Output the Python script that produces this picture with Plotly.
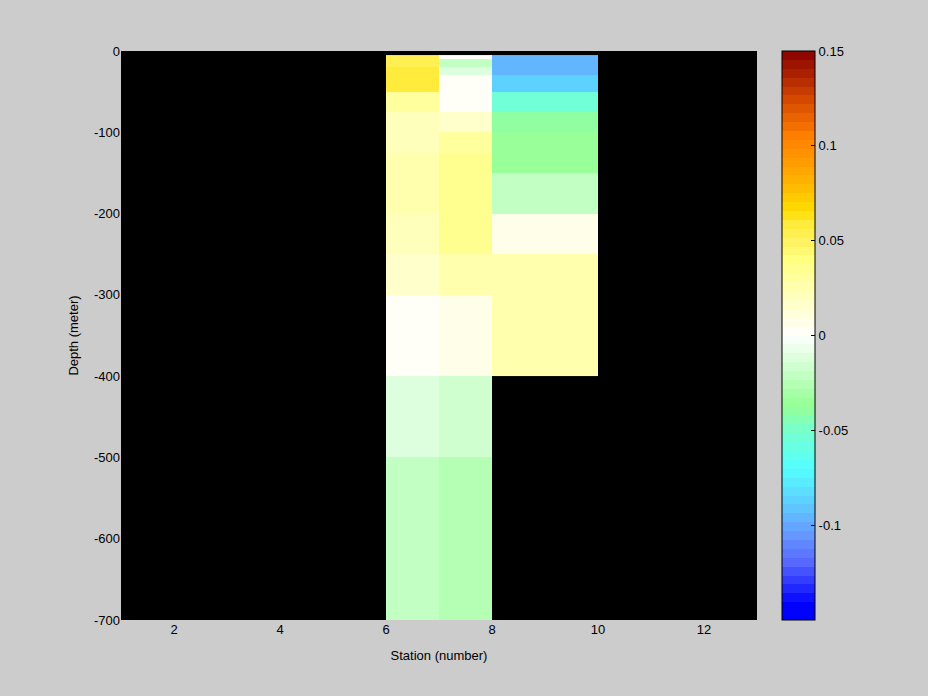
import plotly.graph_objects as go

# ---- data ----
station_edges = [6, 7, 8, 10]
depth_edges = [5, 10, 20, 30, 50, 75, 100, 125, 150, 200, 250, 300, 400, 500, 700]

# values per depth cell (top -> bottom), one list per station column
col_st6 = [0.054, 0.056, 0.058, 0.060, 0.030, 0.022, 0.022, 0.025, 0.025, 0.022, 0.016, 0.004, -0.012, -0.022]
col_st7 = [0.000, -0.019, -0.010, 0.004, 0.004, 0.017, 0.030, 0.036, 0.036, 0.034, 0.026, 0.008, -0.017, -0.025]
col_st8 = [-0.094, -0.098, -0.098, -0.089, -0.055, -0.041, -0.036, -0.033, -0.021, 0.008, 0.024, 0.024, None, None]

x_ticks = [2, 4, 6, 8, 10, 12]
y_ticks = [0, -100, -200, -300, -400, -500, -600, -700]
y_ticklabels = ["0", "-100", "-200", "-300", "-400", "-500", "-600", "-700"]
cb_ticks = [-0.1, -0.05, 0, 0.05, 0.1, 0.15]
cb_ticklabels = ["-0.1", "-0.05", "0", "0.05", "0.1", "0.15"]

# colormap anchors (value, rgb)
cmap_vals = [-0.15, -0.142, -0.12, -0.105, -0.09, -0.07, -0.052, -0.037, -0.035, 0.0,
             0.04, 0.05, 0.058, 0.066, 0.08, 0.105, 0.125, 0.15]
cmap_rgb = [(0, 0, 255), (0, 0, 255), (85, 102, 255), (102, 153, 255), (95, 200, 255),
            (85, 255, 255), (115, 255, 210), (150, 255, 150), (153, 255, 153), (255, 255, 255),
            (255, 255, 128), (255, 242, 95), (255, 236, 65), (255, 221, 0), (255, 180, 0),
            (255, 127, 0), (210, 70, 0), (136, 0, 0)]
zmin, zmax = -0.15, 0.15
nlev = 64


def interp(v):
    for i in range(len(cmap_vals) - 1):
        a, b = cmap_vals[i], cmap_vals[i + 1]
        if a <= v <= b:
            t = 0 if b == a else (v - a) / (b - a)
            ca, cb = cmap_rgb[i], cmap_rgb[i + 1]
            return tuple(round(ca[k] + t * (cb[k] - ca[k])) for k in range(3))
    return cmap_rgb[-1]


colorscale = []
for i in range(nlev):
    vc = zmin + (i + 0.5) * (zmax - zmin) / nlev
    r, g, b = interp(vc)
    col = f"rgb({r},{g},{b})"
    colorscale.append([i / nlev, col])
    colorscale.append([(i + 1) / nlev, col])

# build z (rows = depth cells, increasing y => reverse order)
ncell = len(depth_edges) - 1
z = []
for j in range(ncell):
    z.append([col_st6[j], col_st7[j], col_st8[j]])
z = z[::-1]
y_edges = [-d for d in depth_edges][::-1]

font = dict(family="Liberation Sans, Arial, sans-serif", size=13, color="black")

fig = go.Figure(go.Heatmap(
    x=station_edges, y=y_edges, z=z,
    colorscale=colorscale, zmin=zmin, zmax=zmax,
    hoverongaps=False,
    colorbar=dict(
        x=1.039, xanchor="left", y=0.5, yanchor="middle", len=1.0, lenmode="fraction",
        thickness=33, thicknessmode="pixels",
        outlinecolor="black", outlinewidth=1,
        tickvals=cb_ticks, ticktext=cb_ticklabels,
        ticks="inside", ticklen=4, tickcolor="black",
        tickfont=font, xpad=0, ypad=0,
    ),
))

fig.update_layout(
    width=928, height=696,
    margin=dict(l=121, r=171, t=51, b=76),
    paper_bgcolor="#cccccc", plot_bgcolor="black",
    font=font,
    xaxis=dict(range=[1, 13], tickvals=x_ticks, showgrid=False, zeroline=False,
               ticks="", title=dict(text="Station (number)", font=font, standoff=14),
               tickfont=font),
    yaxis=dict(range=[-700, 0], tickvals=y_ticks, ticktext=y_ticklabels, showgrid=False,
               zeroline=False, ticks="", title=dict(text="Depth (meter)", font=font, standoff=12),
               tickfont=font),
)

fig.write_html(
    "out.html",
    config={"displayModeBar": False},
    post_script="document.body.style.margin='0';document.body.style.background='#cccccc';",
)
